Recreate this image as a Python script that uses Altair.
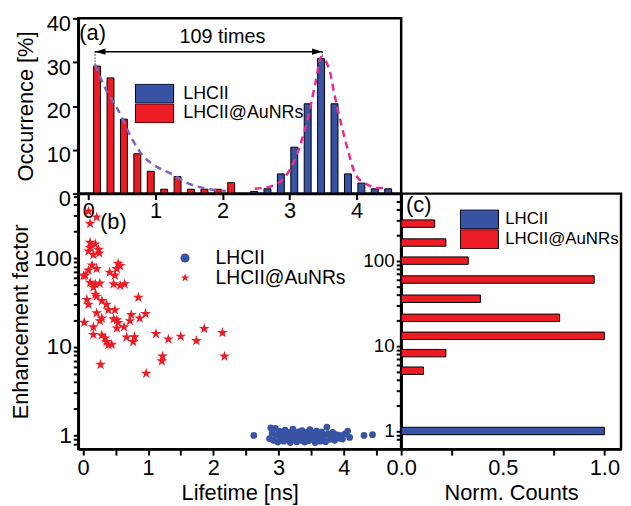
import altair as alt
import pandas as pd

FONT = "Liberation Sans"

# ---------------- data ----------------
series_names = ["LHCII", "LHCII@AuNRs"]
series_colors = ["#3953a4", "#ed1c24"]

# (a) lifetime histogram [%]
lhcii_bin_centers = [2.47, 2.67, 2.87, 3.07, 3.27, 3.47, 3.67, 3.87, 4.07, 4.27, 4.47]
lhcii_occurrence = [0.5, 1.1, 4.5, 10.6, 20.5, 30.8, 20.5, 4.5, 2.4, 1.1, 1.1]
aunr_bin_centers = [0.13, 0.33, 0.53, 0.73, 0.93, 1.13, 1.33, 1.53, 1.73, 1.93, 2.13]
aunr_occurrence = [29.1, 26.4, 17.0, 9.1, 5.1, 1.0, 3.9, 1.0, 1.0, 1.0, 2.5]

# dashed fit curves
decay_fit_x = [0.10, 0.26, 0.45, 0.64, 0.81, 0.95, 1.24, 1.48, 1.81, 2.05]
decay_fit_y = [29.4, 23.8, 18.9, 12.8, 8.7, 6.8, 4.5, 2.4, 1.0, 0.6]
gauss_fit_x = [2.48, 2.77, 2.91, 3.12, 3.27, 3.39, 3.47, 3.60, 3.67, 3.86, 3.98, 4.13, 4.34, 4.45]
gauss_fit_y = [1.1, 1.9, 3.4, 9.4, 17.0, 25.6, 31.2, 27.9, 22.6, 10.5, 4.5, 2.3, 1.3, 1.3]

arrow_ends = [0.10, 3.49]
arrow_level = 32.4
arrow_drop = [29.4, 31.2]
arrow_label = "109 times"
arrow_label_pos = [2.0, 35.8]

# (b) enhancement factor vs lifetime
aunr_lifetime = [0.085, 0.21, 0.11,
                 0.11, 0.19, 0.24, 0.16, 0.11, 0.25, 0.085,
                 0.14, 0.085, 0.21, 0.035, 0.01,
                 0.54, 0.41, 0.49, 0.52, 0.57,
                 0.11, 0.19, 0.26, 0.16,
                 0.47, 0.57, 0.64,
                 0.06, 0.085, 0.19, 0.21, 0.29, 0.36, 0.39, 0.49, 0.85,
                 0.21, 0.29, 0.26, 0.47, 0.52, 0.54, 0.74, 0.72, 0.87, 0.96,
                 0.02, 0.16, 0.52, 0.63,
                 0.16, 0.29, 0.34, 0.36, 0.39, 0.44, 0.67, 0.77, 0.79,
                 1.12, 1.31, 1.50, 1.74, 1.86, 2.14,
                 0.27, 1.22, 1.21, 0.97, 2.17]
aunr_enhancement = [338, 290, 246,
                    150, 144, 125, 109, 131, 114, 120,
                    83, 73, 76, 64, 63,
                    87, 69, 64, 76, 82,
                    53, 51, 52, 47,
                    51, 49, 51,
                    34, 30, 39, 37, 33, 30, 26, 26, 36,
                    24, 21, 19.6, 20.6, 20, 18.7, 23, 19.6, 21, 23.6,
                    18.8, 16.7, 16.2, 16.7,
                    13.7, 13.5, 12.5, 11.4, 10.5, 10.6, 12.8, 11.4, 12.9,
                    14, 12.2, 13.1, 11.7, 16, 14.4,
                    6.3, 7.8, 6.9, 5.0, 7.8]

lhcii_lifetime = [2.62, 2.86, 2.88, 2.90, 2.92, 2.95, 2.97, 2.99, 3.01, 3.03,
                  3.05, 3.06, 3.08, 3.10, 3.12, 3.14, 3.15, 3.16, 3.18, 3.20,
                  3.22, 3.24, 3.25, 3.25, 3.26, 3.28, 3.30, 3.32, 3.34, 3.35,
                  3.35, 3.36, 3.38, 3.40, 3.42, 3.44, 3.45, 3.45, 3.46, 3.48,
                  3.50, 3.52, 3.54, 3.55, 3.55, 3.56, 3.58, 3.60, 3.62, 3.64,
                  3.66, 3.68, 3.70, 3.72, 3.74, 3.76, 3.78, 3.80, 3.83, 3.86,
                  3.89, 3.92, 3.95, 3.98, 4.02, 4.06, 4.09, 4.31, 4.44]
lhcii_enhancement = [1.00, 0.92, 1.22, 1.05, 0.88, 1.20, 1.00, 0.84, 1.12, 0.95,
                     0.90, 1.05, 0.86, 1.15, 0.98, 0.90, 1.00, 1.08, 0.83, 1.02,
                     1.18, 0.93, 1.00, 0.90, 1.06, 0.85, 1.10, 0.97, 0.88, 1.05,
                     0.92, 1.13, 1.01, 0.84, 0.94, 1.09, 0.98, 1.03, 0.87, 1.16,
                     1.00, 0.91, 1.07, 0.96, 1.05, 0.83, 1.12, 0.95, 1.03, 0.86,
                     1.10, 0.92, 1.01, 0.85, 1.24, 1.05, 0.90, 0.97, 1.08, 0.88,
                     1.02, 0.93, 1.00, 0.91, 1.04, 1.12, 0.95, 1.00, 1.02]

# (c) normalised counts of the enhancement factor
aunr_ef_bins = [272, 163, 100, 60, 35.7, 21.3, 13.1, 8.2, 5.1]
aunr_norm_counts = [0.165, 0.22, 0.33, 0.95, 0.39, 0.78, 1.0, 0.22, 0.11]
lhcii_ef_bins = [1.0]
lhcii_norm_counts = [1.0]

# ticks
top_x_ticks = [0, 0.5, 1, 1.5, 2, 2.5, 3, 3.5, 4, 4.5]
top_y_ticks = [0, 5, 10, 15, 20, 25, 30, 35, 40]
ef_ticks = [0.8, 0.9, 1, 2, 3, 4, 5, 6, 7, 8, 9, 10, 20, 30, 40, 50, 60, 70, 80, 90,
            100, 200, 300, 400, 500]
counts_ticks = [0, 0.25, 0.5, 0.75, 1.0]

# ---------------- frames ----------------
hist_df = pd.DataFrame({
    "lifetime": lhcii_bin_centers + aunr_bin_centers,
    "occurrence": lhcii_occurrence + aunr_occurrence,
    "series": [series_names[0]] * len(lhcii_bin_centers) + [series_names[1]] * len(aunr_bin_centers),
})
decay_df = pd.DataFrame({"lifetime": decay_fit_x, "occurrence": decay_fit_y})
gauss_df = pd.DataFrame({"lifetime": gauss_fit_x, "occurrence": gauss_fit_y})
arrow_line_df = pd.DataFrame({"lifetime": [arrow_ends[0]], "lifetime2": [arrow_ends[1]],
                              "occurrence": [arrow_level]})
arrow_left_df = pd.DataFrame({"lifetime": [arrow_ends[0]], "occurrence": [arrow_level]})
arrow_right_df = pd.DataFrame({"lifetime": [arrow_ends[1]], "occurrence": [arrow_level]})
arrow_drop_df = pd.DataFrame({"lifetime": arrow_ends, "occurrence": [arrow_level] * 2,
                              "occurrence2": arrow_drop})
arrow_text_df = pd.DataFrame({"lifetime": [arrow_label_pos[0]], "occurrence": [arrow_label_pos[1]],
                              "label": [arrow_label]})

scatter_df = pd.DataFrame({
    "lifetime": lhcii_lifetime + aunr_lifetime,
    "ef": lhcii_enhancement + aunr_enhancement,
    "series": [series_names[0]] * len(lhcii_lifetime) + [series_names[1]] * len(aunr_lifetime),
})
counts_df = pd.DataFrame({
    "counts": lhcii_norm_counts + aunr_norm_counts,
    "ef": lhcii_ef_bins + aunr_ef_bins,
    "series": [series_names[0]] * len(lhcii_ef_bins) + [series_names[1]] * len(aunr_ef_bins),
})

# ---------------- shared pieces ----------------
color_scale = alt.Scale(domain=series_names, range=series_colors)
rect_symbol = "M-1,-0.5H1V0.5H-1Z"
star_symbol = ("M0,-1L0.2245,-0.309L0.9511,-0.309L0.3633,0.118L0.5878,0.809L0,0.382"
               "L-0.5878,0.809L-0.3633,0.118L-0.9511,-0.309L-0.2245,-0.309Z")


def rect_legend(x, y, offset, font_size):
    return alt.Legend(title=None, orient="none", legendX=x, legendY=y,
                      symbolType=rect_symbol, symbolSize=1480, symbolStrokeColor="black",
                      symbolStrokeWidth=1, symbolOpacity=1, labelFontSize=font_size,
                      labelOffset=offset, rowPadding=0, padding=0, clipHeight=20,
                      labelFont=FONT, labelColor="black")


ef_label_expr = ("(datum.value == 1 || datum.value == 10 || datum.value == 100)"
                 " ? format(datum.value, 'd') : ''")

# ---------------- panel (a) ----------------
x_a = alt.X("lifetime:Q", scale=alt.Scale(domain=[-0.076, 4.59], nice=False, zero=False),
            axis=alt.Axis(title=None, values=top_x_ticks, tickSize=6, labelPadding=1,
                          labelExpr="datum.value % 1 == 0 ? format(datum.value, 'd') : ''"))
y_a = alt.Y("occurrence:Q", scale=alt.Scale(domain=[0, 40], nice=False),
            axis=alt.Axis(title="Occurrence [%]", values=top_y_ticks, tickSize=6, labelPadding=2,
                          titlePadding=9, labelOffset=5,
                          labelExpr="datum.value % 10 == 0 ? format(datum.value, 'd') : ''"))

bars_a = alt.Chart(hist_df).mark_bar(size=7, stroke="black", strokeWidth=1, opacity=1).encode(
    x=x_a, y=y_a,
    color=alt.Color("series:N", scale=color_scale, legend=rect_legend(57, 66, 9, 18)),
)
decay_line = alt.Chart(decay_df).mark_line(color="#7e62c6", strokeWidth=2.5, strokeDash=[7, 5],
                                           interpolate="monotone").encode(x="lifetime:Q", y="occurrence:Q")
gauss_line = alt.Chart(gauss_df).mark_line(color="#ea2a8e", strokeWidth=2.5, strokeDash=[7, 5],
                                           interpolate="monotone").encode(x="lifetime:Q", y="occurrence:Q")
arrow_line = alt.Chart(arrow_line_df).mark_rule(color="black", strokeWidth=1.5).encode(
    x="lifetime:Q", x2="lifetime2:Q", y="occurrence:Q")
arrow_drops = alt.Chart(arrow_drop_df).mark_rule(color="black", strokeWidth=1.2, strokeDash=[1, 2]).encode(
    x="lifetime:Q", y="occurrence:Q", y2="occurrence2:Q")
arrow_left = alt.Chart(arrow_left_df).mark_point(
    filled=True, opacity=1, color="black", size=110, shape="M0,0L2,-0.6L2,0.6Z").encode(
    x="lifetime:Q", y="occurrence:Q")
arrow_right = alt.Chart(arrow_right_df).mark_point(
    filled=True, opacity=1, color="black", size=110, shape="M0,0L-2,-0.6L-2,0.6Z").encode(
    x="lifetime:Q", y="occurrence:Q")
arrow_text = alt.Chart(arrow_text_df).mark_text(fontSize=20, font=FONT, color="black",
                                                baseline="middle").encode(
    x="lifetime:Q", y="occurrence:Q", text="label:N")
label_a = alt.Chart(pd.DataFrame({"t": ["(a)"]})).mark_text(
    fontSize=22, font=FONT, align="left", baseline="middle", color="black").encode(
    x=alt.value(1), y=alt.value(15), text="t:N")

panel_a = alt.layer(bars_a, decay_line, gauss_line, arrow_drops, arrow_line, arrow_left,
                    arrow_right, arrow_text, label_a).properties(width=326, height=177)

# ---------------- panel (b) ----------------
x_b = alt.X("lifetime:Q", scale=alt.Scale(domain=[-0.071, 4.88], nice=False, zero=False),
            axis=alt.Axis(title="Lifetime [ns]", values=top_x_ticks, tickSize=6, labelPadding=3,
                          titlePadding=4,
                          labelExpr="datum.value % 1 == 0 ? format(datum.value, 'd') : ''"))
y_b = alt.Y("ef:Q", scale=alt.Scale(type="log", domain=[0.70, 535], nice=False),
            axis=alt.Axis(title="Enhancement factor", values=ef_ticks, tickSize=5,
                          labelPadding=2, titlePadding=1, labelFontSize=23,
                          labelExpr=ef_label_expr))
scatter = alt.Chart(scatter_df).mark_point(filled=True, opacity=1, strokeWidth=0).encode(
    x=x_b, y=y_b,
    color=alt.Color("series:N", scale=color_scale,
                    legend=alt.Legend(title=None, orient="none", legendX=98, legendY=58,
                                      symbolSize=85, labelFontSize=19.5, labelOffset=21,
                                      rowPadding=0, padding=0, clipHeight=14,
                                      labelFont=FONT, labelColor="black", symbolOpacity=1)),
    shape=alt.Shape("series:N", scale=alt.Scale(domain=series_names, range=["circle", star_symbol])),
    size=alt.Size("series:N", scale=alt.Scale(domain=series_names, range=[46, 130]), legend=None),
)
label_b = alt.Chart(pd.DataFrame({"t": ["(b)"]})).mark_text(
    fontSize=22, font=FONT, align="left", baseline="middle", color="black").encode(
    x=alt.value(22), y=alt.value(29), text="t:N")
panel_b = alt.layer(scatter, label_b).properties(width=326, height=258)

# ---------------- panel (c) ----------------
x_c = alt.X("counts:Q", scale=alt.Scale(domain=[0, 1.082], nice=False),
            axis=alt.Axis(title="Norm. Counts", values=counts_ticks, tickSize=6, labelPadding=3,
                          titlePadding=4,
                          labelExpr="datum.value % 0.5 == 0 ? format(datum.value, '.1f') : ''"))
y_c = alt.Y("ef:Q", scale=alt.Scale(type="log", domain=[0.70, 535], nice=False),
            axis=alt.Axis(title=None, values=ef_ticks, tickSize=5, labelPadding=2,
                          labelFontSize=19, labelExpr=ef_label_expr))
hbars = alt.Chart(counts_df).mark_bar(orient="horizontal", size=7.5, stroke="black",
                                      strokeWidth=1, opacity=1).encode(
    x=x_c, y=y_c,
    color=alt.Color("series:N", scale=color_scale, legend=rect_legend(59, 16, 6, 17)),
)
label_c = alt.Chart(pd.DataFrame({"t": ["(c)"]})).mark_text(
    fontSize=22, font=FONT, align="left", baseline="middle", color="black").encode(
    x=alt.value(5), y=alt.value(12), text="t:N")
panel_c = alt.layer(hbars, label_c).properties(width=222, height=258)

# ---------------- assemble ----------------
bottom = alt.hconcat(panel_b, panel_c, spacing=0, bounds="flush").resolve_scale(
    x="independent", y="independent"
).resolve_legend(color="independent", shape="independent")

chart = alt.vconcat(panel_a, bottom, spacing=0, bounds="flush").resolve_scale(
    x="independent", y="independent"
).resolve_legend(color="independent", shape="independent").properties(
    padding={"left": 0, "top": 0, "right": 0, "bottom": 0},
    background="white",
).configure_view(stroke="black", strokeWidth=2.5).configure_axis(
    domainColor="black", domainWidth=2.5, tickColor="black", tickWidth=2,
    labelColor="black", titleColor="black", labelFont=FONT, titleFont=FONT,
    labelFontSize=22, titleFontSize=22, titleFontWeight="normal", grid=False,
    labelFlush=False, labelOverlap=False, labelBound=False,
)

chart.save("out.html", embed_options={"renderer": "svg", "actions": False})
